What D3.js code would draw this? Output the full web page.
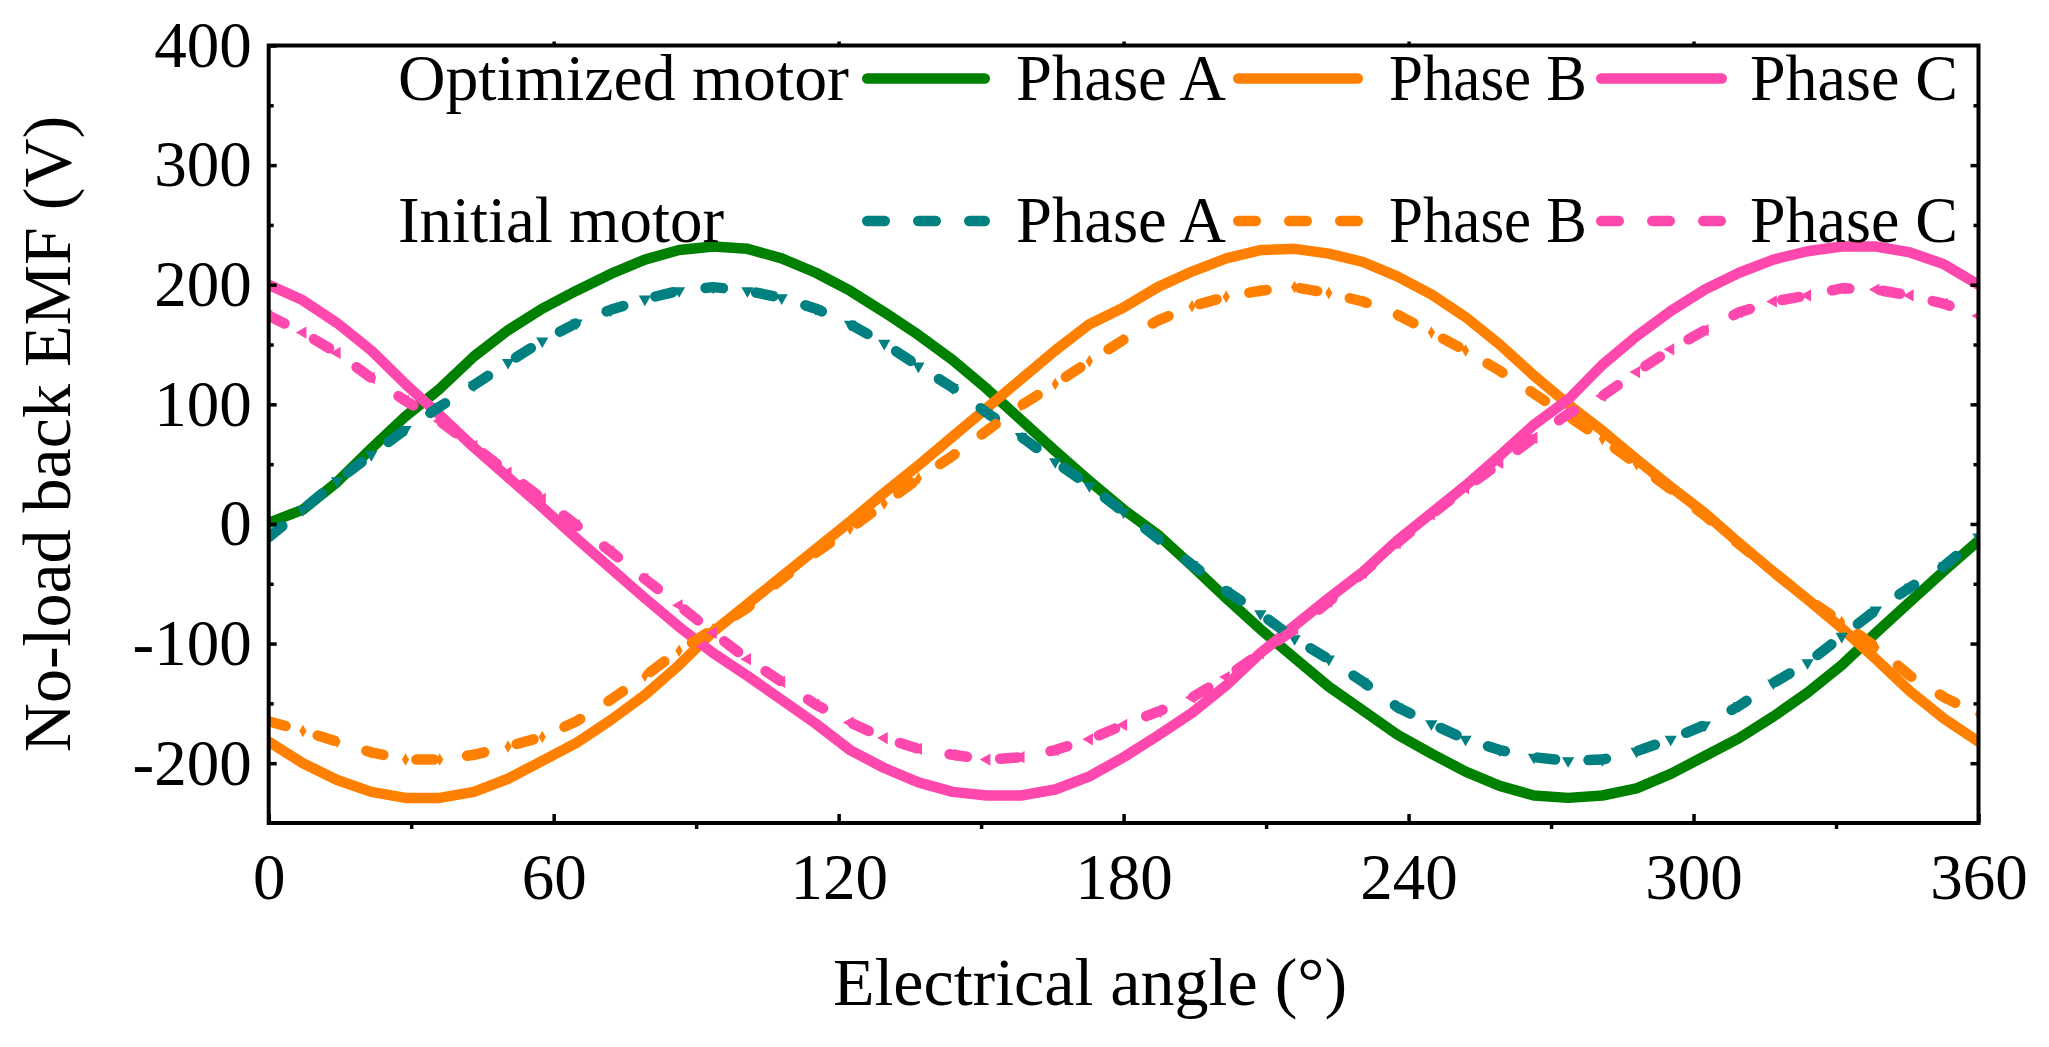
<!DOCTYPE html>
<html><head><meta charset="utf-8">
<script src="https://cdn.jsdelivr.net/npm/d3@7"></script>
<style>html,body{margin:0;padding:0;background:#fff;overflow:hidden}</style>
</head><body>
<svg id="chart" width="2049" height="1047" xmlns="http://www.w3.org/2000/svg"></svg>
<script>
// ---------------- data ----------------
const angles = [0,7.2,14.4,21.6,28.8,36,43.2,50.4,57.6,64.8,72,79.2,86.4,93.6,100.8,108,115.2,122.4,129.6,136.8,144,151.2,158.4,165.6,172.8,180,187.2,194.4,201.6,208.8,216,223.2,230.4,237.6,244.8,252,259.2,266.4,273.6,280.8,288,295.2,302.4,309.6,316.8,324,331.2,338.4,345.6,352.8,360];

const optimizedPhaseA = [1,12,35,63,90,113,140,162,180,195,209,221,229,232,230,222,210,195,177,158,137,113,87,61,36,12,-9,-35,-62,-88,-112,-136,-156,-176,-192,-207,-219,-227,-229,-227,-221,-209,-194,-179,-161,-141,-118,-91,-65,-39,-14];
const optimizedPhaseB = [-182,-200,-214,-224,-229,-229,-224,-213,-198,-183,-164,-143,-118,-90,-67,-44,-21,2,26,49,73,97,121,145,167,181,198,211,222,229,230,226,219,207,192,173,150,124,100,78,54,31,9,-16,-40,-63,-87,-113,-140,-163,-182];
const optimizedPhaseC = [200,187,168,145,117,91,64,39,14,-12,-37,-62,-86,-108,-127,-147,-167,-189,-204,-216,-224,-227,-227,-222,-211,-195,-177,-158,-135,-108,-85,-62,-40,-14,9,32,57,83,104,133,157,178,196,210,221,228,232,232,227,217,200];

const initialPhaseA = [-11,12,36,58,79,98,116,135,153,168,179,188,195,198,195,189,180,167,151,132,114,93,73,52,32,10,-12,-34,-56,-75,-96,-113,-132,-153,-167,-180,-189,-195,-198,-197,-190,-180,-168,-152,-133,-116,-94,-72,-53,-35,-11];
const initialPhaseB = [-165,-173,-182,-191,-197,-197,-193,-186,-178,-165,-147,-127,-106,-88,-70,-46,-24,-4,17,38,57,78,99,117,136,154,170,182,190,195,198,193,186,175,160,145,128,109,90,71,50,29,7,-17,-40,-63,-82,-103,-127,-145,-159];
const initialPhaseC = [174,160,143,122,103,86,65,43,21,-1,-23,-46,-68,-91,-113,-132,-151,-166,-179,-188,-193,-197,-195,-189,-180,-168,-157,-145,-128,-108,-88,-65,-41,-16,8,30,51,72,92,107,127,146,162,177,186,191,197,196,191,184,174];

const groupLabels = ["Optimized motor", "Initial motor"];
const phaseLabels = ["Phase A", "Phase B", "Phase C"];
const xTickValues = [0, 60, 120, 180, 240, 300, 360];
const xMinorTickValues = [30, 90, 150, 210, 270, 330];
const yTickValues = [-200, -100, 0, 100, 200, 300, 400];
const yMinorTickValues = [-250, -150, -50, 50, 150, 250, 350];
const xTitle = "Electrical angle (°)";
const yTitle = "No-load back EMF (V)";

// ---------------- styles / layout ----------------
const optimizedColors = ["#008000", "#ff8000", "#ff48ae"];
const initialColors = ["#008080", "#ff8000", "#ff48ae"];
const markerTypes = ["down", "diamond", "left"];
const FONT = "'Liberation Serif', 'Times New Roman', serif";
const LW = 10.5;
const DASH = "17.5,33.5";

const margin = {left: 268.7, right: 1978.5, top: 45.5, bottom: 823};

const svg = d3.select("#chart");
svg.append("rect").attr("width", 2049).attr("height", 1047).attr("fill", "#fff");

const x = d3.scaleLinear().domain([0, 360]).range([margin.left, margin.right]);
const y = d3.scaleLinear().domain([-250, 400]).range([margin.bottom, margin.top]);

const series = [
  {values: optimizedPhaseA, color: optimizedColors[0], dashed: false},
  {values: optimizedPhaseB, color: optimizedColors[1], dashed: false},
  {values: optimizedPhaseC, color: optimizedColors[2], dashed: false},
  {values: initialPhaseA, color: initialColors[0], dashed: true, marker: markerTypes[0]},
  {values: initialPhaseB, color: initialColors[1], dashed: true, marker: markerTypes[1]},
  {values: initialPhaseC, color: initialColors[2], dashed: true, marker: markerTypes[2]}
];

// clip
svg.append("defs").append("clipPath").attr("id", "plotclip")
  .append("rect")
  .attr("x", margin.left).attr("y", margin.top)
  .attr("width", margin.right - margin.left).attr("height", margin.bottom - margin.top);

const plot = svg.append("g").attr("clip-path", "url(#plotclip)");

const line = d3.line().x((d, i) => x(angles[i])).y(d => y(d));

function markerPath(type) {
  if (type === "diamond") return d3.symbol().type(d3.symbolDiamond).size(45)();
  return d3.symbol().type(d3.symbolTriangle).size(65)();
}
function markerRot(type) {
  if (type === "down") return 180;
  if (type === "left") return -90;
  return 0;
}

// solid lines
series.filter(s => !s.dashed).forEach(s => {
  plot.append("path").datum(s.values)
    .attr("d", line).attr("fill", "none")
    .attr("stroke", s.color).attr("stroke-width", LW)
    .attr("stroke-linejoin", "round").attr("stroke-linecap", "round");
});
// dashed lines with markers underneath
series.filter(s => s.dashed).forEach(s => {
  plot.append("g").selectAll("path").data(s.values).join("path")
    .attr("d", markerPath(s.marker))
    .attr("transform", (d, i) => `translate(${x(angles[i])},${y(d)}) rotate(${markerRot(s.marker)})`)
    .attr("fill", s.color);
  plot.append("path").datum(s.values)
    .attr("d", line).attr("fill", "none")
    .attr("stroke", s.color).attr("stroke-width", LW)
    .attr("stroke-dasharray", DASH)
    .attr("stroke-linejoin", "round").attr("stroke-linecap", "round");
});

// axes
const tickStroke = 3.5;
function styleAxis(g) {
  g.select(".domain").remove();
  g.selectAll(".tick line").attr("stroke", "#000").attr("stroke-width", tickStroke);
  g.selectAll(".tick text").attr("fill", "#000").attr("font-family", FONT).attr("font-size", 65);
}
const hyphenFmt = d => String(d).replace("\u2212", "-");

// bottom major (inward)
svg.append("g").attr("transform", `translate(0,${margin.bottom})`)
  .call(d3.axisBottom(x).tickValues(xTickValues).tickSize(-9).tickPadding(30).tickFormat(hyphenFmt))
  .call(styleAxis);
// bottom minor (outward)
svg.append("g").attr("transform", `translate(0,${margin.bottom})`)
  .call(d3.axisBottom(x).tickValues(xMinorTickValues).tickSize(6).tickFormat(""))
  .call(styleAxis);
// top major (small, outward)
svg.append("g").attr("transform", `translate(0,${margin.top})`)
  .call(d3.axisTop(x).tickValues(xTickValues.slice(1, -1)).tickSize(4).tickFormat(""))
  .call(styleAxis);
// left major
svg.append("g").attr("transform", `translate(${margin.left},0)`)
  .call(d3.axisLeft(y).tickValues(yTickValues).tickSize(-8).tickPadding(17).tickFormat(hyphenFmt))
  .call(styleAxis);
// left minor
svg.append("g").attr("transform", `translate(${margin.left},0)`)
  .call(d3.axisLeft(y).tickValues(yMinorTickValues.slice(1)).tickSize(-5).tickFormat(""))
  .call(styleAxis);
// right major + minor
svg.append("g").attr("transform", `translate(${margin.right},0)`)
  .call(d3.axisRight(y).tickValues(yTickValues.slice(0, -1)).tickSize(-8).tickFormat(""))
  .call(styleAxis);
svg.append("g").attr("transform", `translate(${margin.right},0)`)
  .call(d3.axisRight(y).tickValues(yMinorTickValues.slice(1)).tickSize(-5).tickFormat(""))
  .call(styleAxis);

// frame
svg.append("rect")
  .attr("x", margin.left).attr("y", margin.top)
  .attr("width", margin.right - margin.left).attr("height", margin.bottom - margin.top)
  .attr("fill", "none").attr("stroke", "#000").attr("stroke-width", 4);

// axis titles
svg.append("text").attr("x", 1090).attr("y", 1005)
  .attr("text-anchor", "middle").attr("font-family", FONT).attr("font-size", 68)
  .text(xTitle);
svg.append("text").attr("transform", "translate(70,434) rotate(-90)")
  .attr("text-anchor", "middle").attr("font-family", FONT).attr("font-size", 68)
  .text(yTitle);

// legend
const legendRowsY = [{line: 78.5, text: 100}, {line: 221, text: 242}];
const legendGroupX = 398;
const legendGroupW = [451, 326];
const legendLineX = [[862, 990], [1233, 1363], [1596, 1727]];
const legendTextX = [1016, 1389, 1750];
const legendTextW = [210, 198, 208];
const legend = svg.append("g");
groupLabels.forEach((g, r) => {
  legend.append("text").attr("x", legendGroupX).attr("y", legendRowsY[r].text)
    .attr("font-family", FONT).attr("font-size", 65)
    .attr("textLength", legendGroupW[r]).attr("lengthAdjust", "spacingAndGlyphs").text(g);
  phaseLabels.forEach((p, k) => {
    const s = series[r * 3 + k];
    legend.append("line")
      .attr("x1", legendLineX[k][0] + LW / 2).attr("x2", legendLineX[k][1] - LW / 2)
      .attr("y1", legendRowsY[r].line).attr("y2", legendRowsY[r].line)
      .attr("stroke", s.color).attr("stroke-width", LW).attr("stroke-linecap", "round")
      .attr("stroke-dasharray", s.dashed ? DASH : null);
    legend.append("text").attr("x", legendTextX[k]).attr("y", legendRowsY[r].text)
      .attr("font-family", FONT).attr("font-size", 65)
      .attr("textLength", legendTextW[k]).attr("lengthAdjust", "spacingAndGlyphs").text(p);
  });
});
</script>
</body></html>
